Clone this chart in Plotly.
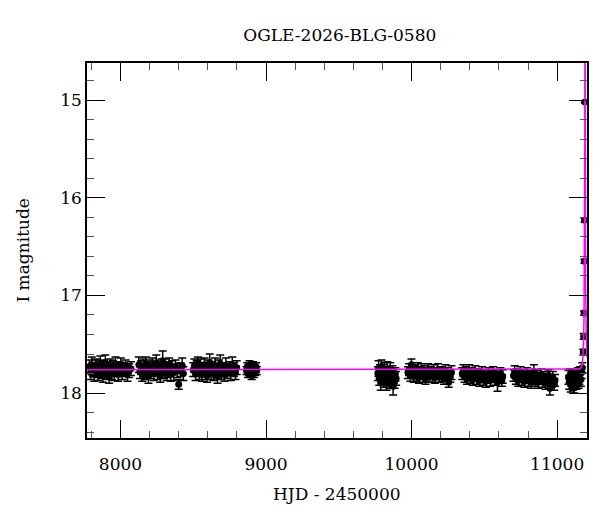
import numpy as np
import plotly.graph_objects as go

# ---------------- data ----------------
title_text = "OGLE-2026-BLG-0580"
x_label = "HJD - 2450000"
y_label = "I magnitude"

s1_t = [7786, 7795, 7803, 7811, 7820, 7828, 7836, 7845, 7853, 7862, 7870, 7879, 7888, 7896, 7905, 7914,
        7922, 7931, 7940, 7948, 7957, 7966, 7975, 7984, 7993, 8002, 8012, 8023, 8035, 8048, 8060, 8072]
s1_m = [17.73, 17.79, 17.71, 17.76, 17.81, 17.74, 17.72, 17.80, 17.77, 17.70, 17.76, 17.82, 17.73, 17.69, 17.79, 17.75,
        17.83, 17.72, 17.78, 17.74, 17.80, 17.71, 17.76, 17.81, 17.75, 17.72, 17.79, 17.76, 17.73, 17.80, 17.77, 17.75]
s1_e = [0.07, 0.07, 0.08, 0.07, 0.07, 0.08, 0.07, 0.07, 0.07, 0.08, 0.09, 0.07, 0.07, 0.08, 0.07, 0.07,
        0.07, 0.07, 0.08, 0.07, 0.07, 0.08, 0.07, 0.07, 0.07, 0.08, 0.07, 0.07, 0.07, 0.08, 0.07, 0.07]

s2_t = [8126, 8134, 8142, 8150, 8158, 8166, 8174, 8183, 8192, 8201, 8210, 8219, 8228, 8237, 8246, 8255,
        8264, 8273, 8282, 8290, 8299, 8308, 8317, 8326, 8335, 8345, 8355, 8366, 8378, 8390, 8400, 8412, 8424, 8432]
s2_m = [17.71, 17.78, 17.74, 17.81, 17.73, 17.79, 17.70, 17.76, 17.83, 17.73, 17.78, 17.72, 17.80, 17.75, 17.69, 17.79,
        17.76, 17.82, 17.73, 17.67, 17.78, 17.72, 17.80, 17.76, 17.71, 17.81, 17.74, 17.79, 17.73, 17.77, 17.91, 17.76, 17.72, 17.80]
s2_e = [0.08, 0.07, 0.07, 0.07, 0.08, 0.07, 0.07, 0.08, 0.07, 0.07, 0.07, 0.08, 0.07, 0.07, 0.08, 0.07,
        0.07, 0.07, 0.08, 0.10, 0.07, 0.07, 0.07, 0.08, 0.07, 0.07, 0.07, 0.08, 0.07, 0.07, 0.05, 0.07, 0.08, 0.07]

s3_t = [8500, 8508, 8516, 8524, 8532, 8541, 8550, 8559, 8568, 8577, 8586, 8595, 8604, 8613, 8622, 8631,
        8640, 8649, 8658, 8667, 8676, 8685, 8694, 8704, 8714, 8724, 8735, 8746, 8757, 8768, 8779, 8790, 8798]
s3_m = [17.76, 17.72, 17.80, 17.75, 17.70, 17.79, 17.73, 17.81, 17.76, 17.71, 17.78, 17.82, 17.73, 17.69, 17.79, 17.75,
        17.80, 17.72, 17.77, 17.83, 17.73, 17.70, 17.79, 17.76, 17.81, 17.72, 17.78, 17.75, 17.80, 17.71, 17.76, 17.79, 17.74]
s3_e = [0.07, 0.07, 0.07, 0.08, 0.07, 0.07, 0.08, 0.07, 0.07, 0.07, 0.08, 0.07, 0.07, 0.09, 0.07, 0.07,
        0.07, 0.08, 0.07, 0.07, 0.07, 0.09, 0.07, 0.07, 0.07, 0.08, 0.07, 0.07, 0.07, 0.08, 0.07, 0.07, 0.07]

s4_t = [8866, 8871, 8876, 8881, 8886, 8891, 8896, 8901, 8906, 8911, 8916, 8921, 8926, 8931, 8936]
s4_m = [17.77, 17.73, 17.80, 17.75, 17.71, 17.79, 17.74, 17.82, 17.76, 17.72, 17.80, 17.75, 17.78, 17.73, 17.77]
s4_e = [0.04, 0.04, 0.04, 0.04, 0.04, 0.04, 0.04, 0.04, 0.04, 0.04, 0.04, 0.04, 0.04, 0.04, 0.04]

s5_t = [9768, 9773, 9778, 9783, 9788, 9793, 9798, 9803, 9808, 9813, 9818, 9823, 9828, 9833, 9838, 9843,
        9848, 9853, 9858, 9863, 9868, 9873, 9878, 9883, 9888, 9894]
s5_m = [17.80, 17.75, 17.85, 17.78, 17.89, 17.73, 17.83, 17.79, 17.87, 17.76, 17.84, 17.80, 17.90, 17.76, 17.85, 17.81,
        17.88, 17.77, 17.82, 17.86, 17.79, 17.93, 17.83, 17.87, 17.81, 17.85]
s5_e = [0.07, 0.08, 0.07, 0.07, 0.08, 0.07, 0.07, 0.08, 0.07, 0.07, 0.08, 0.07, 0.07, 0.08, 0.07, 0.07,
        0.07, 0.08, 0.07, 0.07, 0.07, 0.09, 0.07, 0.08, 0.07, 0.07]

s6_t = [9975, 9983, 9991, 9999, 10007, 10015, 10024, 10033, 10042, 10051, 10060, 10069, 10078, 10087, 10096, 10105,
        10114, 10123, 10132, 10141, 10150, 10160, 10170, 10180, 10190, 10200, 10211, 10222, 10233, 10244, 10255, 10266, 10274]
s6_m = [17.79, 17.76, 17.82, 17.71, 17.78, 17.83, 17.77, 17.81, 17.75, 17.84, 17.79, 17.76, 17.82, 17.78, 17.85, 17.80,
        17.76, 17.83, 17.79, 17.82, 17.77, 17.84, 17.80, 17.76, 17.83, 17.79, 17.81, 17.85, 17.77, 17.80, 17.89, 17.83, 17.79]
s6_e = [0.06, 0.06, 0.06, 0.06, 0.06, 0.06, 0.06, 0.07, 0.06, 0.06, 0.06, 0.06, 0.07, 0.06, 0.06, 0.06,
        0.06, 0.06, 0.06, 0.07, 0.06, 0.06, 0.06, 0.06, 0.06, 0.06, 0.07, 0.06, 0.06, 0.06, 0.05, 0.06, 0.07]

s7_t = [10348, 10356, 10364, 10372, 10380, 10388, 10396, 10404, 10412, 10420, 10429, 10438, 10447, 10456, 10465, 10474,
        10483, 10492, 10501, 10510, 10520, 10530, 10540, 10550, 10560, 10570, 10580, 10590, 10600, 10610, 10620, 10626]
s7_m = [17.80, 17.77, 17.83, 17.79, 17.85, 17.81, 17.77, 17.84, 17.80, 17.86, 17.82, 17.78, 17.85, 17.81, 17.87, 17.83,
        17.79, 17.86, 17.82, 17.88, 17.84, 17.80, 17.87, 17.83, 17.79, 17.86, 17.82, 17.89, 17.84, 17.80, 17.87, 17.83]
s7_e = [0.06, 0.06, 0.06, 0.06, 0.06, 0.06, 0.06, 0.06, 0.06, 0.06, 0.06, 0.06, 0.06, 0.06, 0.06, 0.06,
        0.06, 0.06, 0.06, 0.06, 0.06, 0.06, 0.06, 0.06, 0.06, 0.06, 0.06, 0.09, 0.06, 0.06, 0.06, 0.07]

s8_t = [10700, 10708, 10716, 10724, 10732, 10740, 10748, 10757, 10766, 10775, 10784, 10793, 10802, 10811, 10820, 10830,
        10840, 10850, 10860, 10870, 10880, 10890, 10900, 10910, 10920, 10930, 10940, 10950, 10960, 10970, 10980, 10985]
s8_m = [17.82, 17.78, 17.85, 17.81, 17.87, 17.83, 17.79, 17.86, 17.82, 17.88, 17.84, 17.80, 17.87, 17.83, 17.89, 17.85,
        17.78, 17.87, 17.83, 17.89, 17.85, 17.81, 17.88, 17.84, 17.90, 17.86, 17.82, 17.95, 17.88, 17.84, 17.91, 17.87]
s8_e = [0.06, 0.06, 0.06, 0.06, 0.06, 0.06, 0.06, 0.06, 0.06, 0.06, 0.06, 0.06, 0.06, 0.06, 0.06, 0.06,
        0.07, 0.06, 0.06, 0.06, 0.06, 0.06, 0.06, 0.06, 0.06, 0.06, 0.06, 0.07, 0.06, 0.06, 0.06, 0.06]

s9_t = [11078, 11083, 11088, 11093, 11098, 11103, 11108, 11113, 11118, 11123, 11128, 11133, 11138, 11143, 11148,
        11153, 11158, 11163, 11168, 11173]
s9_m = [17.84, 17.89, 17.82, 17.91, 17.86, 17.83, 17.90, 17.85, 17.93, 17.87, 17.83, 17.89, 17.85, 17.81, 17.88,
        17.84, 17.80, 17.86, 17.79, 17.74]
s9_e = [0.07, 0.07, 0.07, 0.08, 0.07, 0.07, 0.07, 0.07, 0.07, 0.07, 0.07, 0.07, 0.07, 0.07, 0.07,
        0.07, 0.07, 0.07, 0.06, 0.05]

peak_t = [11179.1, 11182.3, 11184.8, 11187.6, 11188.8, 11190.3]
peak_m = [17.58, 17.42, 17.18, 16.65, 16.23, 15.02]
peak_e = [0.03, 0.03, 0.02, 0.02, 0.02, 0.01]

# microlensing (Paczynski) model parameters
base_mag = 17.76
t0 = 11191.0
tE = 9.0
u0 = 0.02

x_range = [7770, 11205]
y_range = [18.46, 14.62]

# ---------------- figure ----------------
all_t = s1_t + s2_t + s3_t + s4_t + s5_t + s6_t + s7_t + s8_t + s9_t + peak_t
all_m = s1_m + s2_m + s3_m + s4_m + s5_m + s6_m + s7_m + s8_m + s9_m + peak_m
all_e = s1_e + s2_e + s3_e + s4_e + s5_e + s6_e + s7_e + s8_e + s9_e + peak_e

model_t = np.concatenate([np.linspace(x_range[0], 11140, 50), np.linspace(11140, x_range[1], 3000)])
u = np.sqrt(u0 ** 2 + ((model_t - t0) / tE) ** 2)
amp = (u ** 2 + 2) / (u * np.sqrt(u ** 2 + 4))
model_m = base_mag - 2.5 * np.log10(amp)

fig = go.Figure()
fig.add_trace(go.Scatter(
    x=all_t, y=all_m, mode="markers",
    marker=dict(color="black", size=7),
    error_y=dict(type="data", array=all_e, visible=True, color="black", thickness=1.5, width=4),
    showlegend=False, cliponaxis=True,
))
fig.add_trace(go.Scatter(
    x=model_t, y=model_m, mode="lines",
    line=dict(color="#ff00ff", width=1.5),
    showlegend=False,
))

font_family = "DejaVu Serif"
axis_common = dict(
    showline=True, linecolor="black", linewidth=1.5, mirror="allticks",
    ticks="inside", ticklen=18, tickwidth=1, tickcolor="black",
    showgrid=False, zeroline=False, automargin=False,
    tickfont=dict(family=font_family, size=17, color="black"),
)

fig.update_xaxes(
    range=x_range, tick0=8000, dtick=1000, tickformat="d", ticklabelstandoff=10,
    minor=dict(ticks="inside", ticklen=7, dtick=200, tick0=8000, tickcolor="#555", showgrid=False),
    **axis_common,
)
fig.update_yaxes(
    range=y_range, tick0=15, dtick=1, tickformat="d",
    minor=dict(ticks="inside", ticklen=7, dtick=0.2, tick0=15, tickcolor="#555", showgrid=False),
    **axis_common,
)

# page body has an 8px default margin, so margins are shifted by 8px
fig.update_layout(
    width=600, height=512,
    margin=dict(l=79, r=21, t=55, b=82),
    paper_bgcolor="white", plot_bgcolor="white",
    title=dict(text=title_text, x=0.553, xanchor="center", y=0.947, yanchor="middle",
               font=dict(family=font_family, size=17, color="black")),
    annotations=[
        dict(text=x_label, xref="paper", yref="paper", x=0.5, y=-0.149, xanchor="center", yanchor="middle",
             showarrow=False, font=dict(family=font_family, size=17, color="black")),
        dict(text=y_label, xref="paper", yref="paper", x=-0.13, y=0.5, xanchor="center", yanchor="middle",
             textangle=-90, showarrow=False, font=dict(family=font_family, size=17, color="black")),
    ],
)

fig.write_html("out.html")
